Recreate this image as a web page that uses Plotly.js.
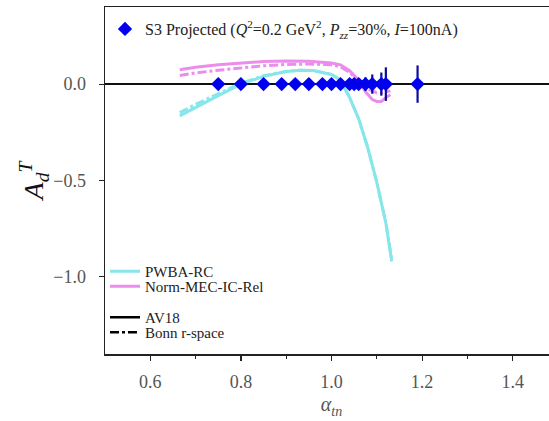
<!DOCTYPE html>
<html>
<head>
<meta charset="utf-8">
<script src="https://cdn.plot.ly/plotly-3.0.1.min.js"></script>
<style>html,body{margin:0;padding:0;overflow:hidden;background:#fff;}</style>
</head>
<body>
<div id="chart"></div>
<script>
// Projected data points
const alphaPts = [0.75, 0.80, 0.85, 0.89, 0.92, 0.95, 0.98, 1.00, 1.02, 1.04, 1.05, 1.06, 1.075, 1.09, 1.11, 1.12, 1.19];
const adPts    = [0, 0, 0, 0, 0, 0, 0, 0, 0, 0, 0, 0, 0, 0, 0, 0, 0];
const adErr    = [0.008, 0.008, 0.008, 0.008, 0.009, 0.01, 0.01, 0.012, 0.014, 0.018, 0.022, 0.026, 0.035, 0.05, 0.06, 0.087, 0.097];

// PWBA-RC curves
const pwbaAlpha = [0.665, 0.70, 0.75, 0.80, 0.85, 0.90, 0.93, 0.96, 1.00, 1.02, 1.04, 1.06, 1.08, 1.10, 1.12, 1.133];
const pwbaAV18  = [-0.165, -0.12, -0.06, 0.0, 0.04, 0.065, 0.072, 0.07, 0.05, 0.02, -0.07, -0.18, -0.33, -0.51, -0.72, -0.92];
const pwbaBonn  = [-0.148, -0.105, -0.05, 0.005, 0.043, 0.066, 0.072, 0.07, 0.05, 0.02, -0.07, -0.18, -0.33, -0.51, -0.72, -0.91];

// Norm-MEC-IC-Rel curves
const normAlpha = [0.665, 0.70, 0.75, 0.80, 0.85, 0.90, 0.95, 1.00, 1.02, 1.04, 1.06, 1.075, 1.09, 1.10, 1.11, 1.12, 1.13];
const normAV18  = [0.075, 0.088, 0.10, 0.11, 0.117, 0.12, 0.118, 0.11, 0.10, 0.07, 0.02, -0.04, -0.08, -0.09, -0.09, -0.07, -0.055];
const normBonn  = [0.045, 0.058, 0.072, 0.085, 0.095, 0.102, 0.104, 0.10, 0.09, 0.06, 0.015, -0.02, -0.035, -0.045, -0.045, -0.04, -0.035];

const cyan = '#86e6ea';
const pink = '#ec8cec';
const serif = 'Liberation Serif, Times New Roman, serif';

const traces = [
  {x: pwbaAlpha, y: pwbaAV18, mode: 'lines', name: 'PWBA-RC', legend: 'legend2',
   line: {color: cyan, width: 3}},
  {x: pwbaAlpha, y: pwbaBonn, mode: 'lines', showlegend: false,
   line: {color: cyan, width: 3, dash: 'dashdot'}},
  {x: normAlpha, y: normAV18, mode: 'lines', name: 'Norm-MEC-IC-Rel', legend: 'legend3',
   line: {color: pink, width: 3}},
  {x: normAlpha, y: normBonn, mode: 'lines', showlegend: false,
   line: {color: pink, width: 3, dash: 'dashdot'}},
  {x: [null], y: [null], mode: 'lines', name: 'AV18', legend: 'legend4',
   line: {color: 'black', width: 2.5}},
  {x: [null], y: [null], mode: 'lines', name: 'Bonn r-space', legend: 'legend5',
   line: {color: 'black', width: 2.5, dash: 'dashdot'}},
  {x: alphaPts, y: adPts, mode: 'markers', legend: 'legend',
   name: 'S3 Projected (<i>Q</i><sup>2</sup>=0.2 GeV<sup>2</sup>, <i>P</i><sub><i>zz</i></sub>=30%, <i>I</i>=100nA)',
   marker: {symbol: 'diamond', size: 11, color: '#0000ee'},
   error_y: {type: 'data', array: adErr, visible: true, color: '#0c0c9c', thickness: 2.2, width: 0}}
];

function leg(y, size) {
  return {x: 0.0, y: y, xanchor: 'left', yanchor: 'top', bgcolor: 'rgba(0,0,0,0)',
          font: {family: serif, size: size, color: '#222'}, itemwidth: 30};
}

const layout = {
  width: 560, height: 421,
  margin: {l: 105, r: 2, t: 7, b: 67},
  paper_bgcolor: 'white', plot_bgcolor: 'white',
  font: {family: serif, color: '#333'},
  xaxis: {
    range: [0.5, 1.5], tickvals: [0.6, 0.8, 1.0, 1.2, 1.4], ticktext: ['0.6', '0.8', '1.0', '1.2', '1.4'],
    ticks: 'outside', ticklen: 5, tickwidth: 1.2, tickcolor: '#222',
    minor: {tickvals: [0.7, 0.9, 1.1, 1.3], ticks: 'outside', ticklen: 3.5, tickwidth: 1, tickcolor: '#222'},
    showline: true, linecolor: '#222', linewidth: 1.5, mirror: true,
    showgrid: false, zeroline: false,
    tickfont: {family: serif, size: 18, color: '#555'}, ticklabelstandoff: 6,
    title: {text: '<i>α</i><sub><i>tn</i></sub>', font: {family: serif, size: 20, color: '#555'}, standoff: 6}
  },
  yaxis: {
    range: [-1.4, 0.4], tickvals: [-1.0, -0.5, 0.0], ticktext: ['\u22121.0', '\u22120.5', '0.0'],
    ticks: 'outside', ticklen: 5, tickwidth: 1.2, tickcolor: '#222',
    showline: true, linecolor: '#222', linewidth: 1.5, mirror: true,
    showgrid: false, zeroline: true, zerolinecolor: '#111', zerolinewidth: 1.8,
    tickfont: {family: serif, size: 18, color: '#555'}, ticklabelstandoff: 9,
    title: {text: '<i>A</i><sub><i>d</i></sub><sup><i>T</i></sup>', font: {family: serif, size: 28, color: '#111'}, standoff: 0}
  },
  legend: leg(0.9856, 16),
  legend2: leg(0.2853, 15),
  legend3: leg(0.2421, 15),
  legend4: leg(0.1527, 15),
  legend5: leg(0.1095, 15),
  showlegend: true
};

Plotly.newPlot('chart', traces, layout, {displayModeBar: false, staticPlot: true});
</script>
</body>
</html>
